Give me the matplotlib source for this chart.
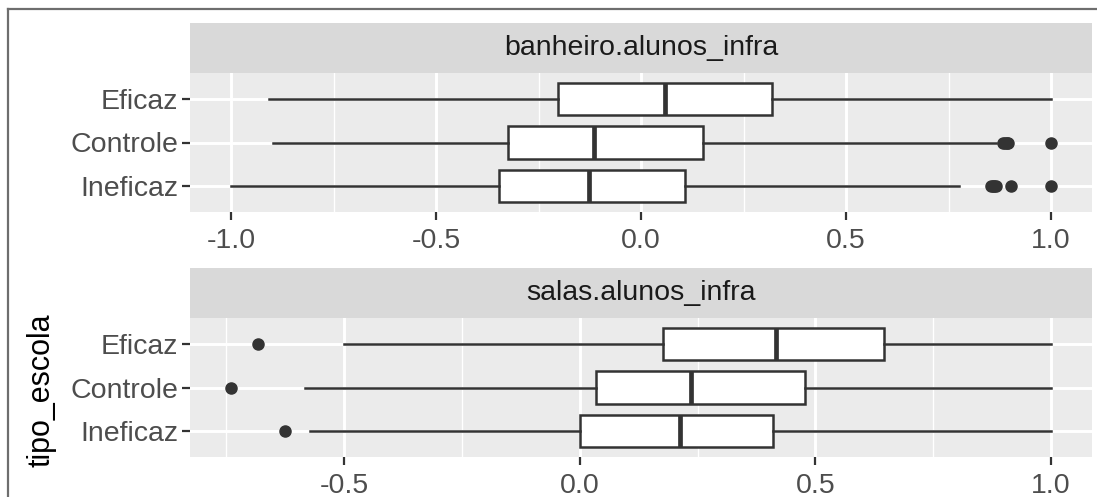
import matplotlib
matplotlib.use("Agg")
import matplotlib.pyplot as plt
from matplotlib.lines import Line2D
from matplotlib.ticker import FixedLocator, FormatStrFormatter
import numpy as np

plt.rcParams['font.family'] = ['Liberation Sans', 'DejaVu Sans']

# school groups, bottom to top
categories = ["Ineficaz", "Controle", "Eficaz"]

# banheiro.alunos_infra
banheiro_q1 = [-0.347, -0.324, -0.203]
banheiro_med = [-0.127, -0.115, 0.058]
banheiro_q3 = [0.107, 0.152, 0.320]
banheiro_lo = [-1.0, -0.897, -0.908]
banheiro_hi = [0.775, 0.865, 1.0]
banheiro_out = [[0.853, 0.858, 0.862, 0.866, 0.902, 1.0],
                [0.883, 0.888, 0.892, 0.895, 1.0],
                []]

# salas.alunos_infra
salas_q1 = [0.0, 0.035, 0.176]
salas_med = [0.2125, 0.236, 0.417]
salas_q3 = [0.411, 0.478, 0.646]
salas_lo = [-0.573, -0.583, -0.5]
salas_hi = [1.0, 1.0, 1.0]
salas_out = [[-0.625], [-0.74], [-0.683]]

W, H = 1097, 497
DARK = "#333333"


def make_stats(q1, med, q3, lo, hi, out):
    return [dict(q1=a, med=b, q3=c, whislo=d, whishi=e, fliers=f)
            for a, b, c, d, e, f in zip(q1, med, q3, lo, hi, out)]


def facet(fig, top_px, title, stats):
    left, right = 190, 1092
    strip_h, panel_h = 50, 139
    # strip
    sax = fig.add_axes([left / W, 1 - (top_px + strip_h) / H,
                        (right - left) / W, strip_h / H])
    sax.set_facecolor("#D9D9D9")
    sax.set_xticks([])
    sax.set_yticks([])
    for s in sax.spines.values():
        s.set_visible(False)
    sax.text(0.5, 0.5, title, ha="center", va="center", size=20.5,
             color="#1A1A1A", transform=sax.transAxes)

    # panel
    ax = fig.add_axes([left / W, 1 - (top_px + strip_h + panel_h) / H,
                       (right - left) / W, panel_h / H])
    ax.set_facecolor("#EBEBEB")
    for s in ax.spines.values():
        s.set_visible(False)

    ax.bxp(stats, positions=[1, 2, 3], widths=0.75, orientation="horizontal",
           showcaps=False, patch_artist=True,
           boxprops=dict(facecolor="white", edgecolor=DARK, linewidth=1.8),
           medianprops=dict(color=DARK, linewidth=3.4),
           whiskerprops=dict(color=DARK, linewidth=1.8),
           flierprops=dict(marker="o", markerfacecolor=DARK,
                           markeredgecolor=DARK, markersize=8))

    vals = []
    for st in stats:
        vals += [st["whislo"], st["whishi"]] + list(st["fliers"])
    lo, hi = min(vals), max(vals)
    pad = (hi - lo) * 0.05
    ax.set_xlim(lo - pad, hi + pad)
    ax.set_ylim(0.4, 3.6)

    major = [v for v in np.arange(-1.0, 1.01, 0.5) if lo - pad <= v <= hi + pad]
    minor = [v for v in np.arange(-0.75, 1.0, 0.5) if lo - pad <= v <= hi + pad]
    ax.xaxis.set_major_locator(FixedLocator(major))
    ax.xaxis.set_minor_locator(FixedLocator(minor))
    ax.xaxis.set_major_formatter(FormatStrFormatter("%.1f"))
    ax.set_yticks([1, 2, 3])
    ax.set_yticklabels(categories)

    ax.set_axisbelow(True)
    ax.grid(True, which="major", color="white", linewidth=2.1)
    ax.grid(True, which="minor", axis="x", color="white", linewidth=1.0)
    ax.tick_params(which="major", length=5.8, width=1.6, color=DARK,
                   labelsize=20.5, labelcolor="#4D4D4D", pad=2.5)
    ax.tick_params(axis="x", which="major", pad=5.5)
    ax.tick_params(which="minor", length=0)
    return ax


fig = plt.figure(figsize=(W / 100, H / 100), dpi=100)

facet(fig, 23, "banheiro.alunos_infra",
      make_stats(banheiro_q1, banheiro_med, banheiro_q3,
                 banheiro_lo, banheiro_hi, banheiro_out))
facet(fig, 268, "salas.alunos_infra",
      make_stats(salas_q1, salas_med, salas_q3,
                 salas_lo, salas_hi, salas_out))

fig.text(42 / W, 1 - 390 / H, "tipo_escola", rotation=90, ha="center",
         va="center", size=22, color="black")

# border around the figure
fig.add_artist(Line2D([8 / W, 8 / W], [0, 1 - 9 / H], transform=fig.transFigure,
                      color="#6E6E6E", linewidth=1.6))
fig.add_artist(Line2D([8 / W, 1], [1 - 9 / H, 1 - 9 / H], transform=fig.transFigure,
                      color="#6E6E6E", linewidth=1.6))

fig.savefig("out.png", dpi=100, facecolor="white")
